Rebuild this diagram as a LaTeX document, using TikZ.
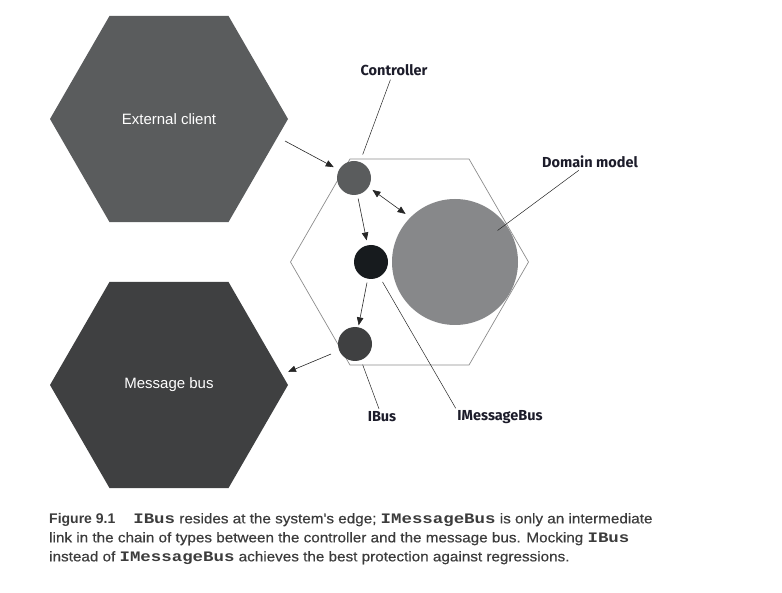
\documentclass[tikz,border=0pt]{standalone}
\usepackage{fontspec}
\setmainfont{Liberation Sans}
\newfontfamily\lblfont{Fira Sans}
\newfontfamily\capfont[FakeBold=0.5,FakeStretch=1.09]{Liberation Sans}
\newfontfamily\capbold{Liberation Sans Bold}
\newfontfamily\capmono[FakeStretch=1.2]{Liberation Mono}
\usetikzlibrary{arrows.meta,shapes.geometric}
\definecolor{clientgray}{HTML}{5A5C5D}
\definecolor{busgray}{HTML}{3F4041}
\definecolor{domgray}{HTML}{87888A}
\definecolor{msgblack}{HTML}{171B1E}
\definecolor{rimgray}{HTML}{8C8C8C}
\definecolor{lblink}{HTML}{1C1C2A}
\definecolor{capgray}{HTML}{3C3C3C}
\newcommand{\cd}[1]{{\capmono\bfseries\fontsize{14.5}{19}\selectfont #1}}

\begin{document}
\begin{tikzpicture}[x=1pt,y=-1pt,
>={Triangle[length=8pt,width=6.5pt]},
hexa/.style={regular polygon,regular polygon sides=6,minimum size=238pt,inner sep=0pt,outer sep=0pt},
dot/.style={circle,inner sep=0pt,outer sep=0pt,minimum size=34pt},
lbl/.style={font=\lblfont\bfseries\fontsize{14.5}{16}\selectfont,text=lblink,inner sep=1pt},
hextext/.style={text=white,font=\fontsize{15}{17}\selectfont},
conn/.style={->,line width=0.6pt,black!85},
pointer/.style={line width=0.5pt,black!85}]
\useasboundingbox (0,0) rectangle (782,593);

% the three hexagons
\node[hexa,fill=clientgray](client) at (169,119){};
\node[hextext] at (client.center){External client};
\node[hexa,fill=busgray](msgbus) at (169,385){};
\node[hextext] at (msgbus.center){Message bus};
\node[hexa,draw=rimgray,line width=0.7pt](app) at (409.5,262){};

% types inside the application
\node[dot,fill=clientgray](ctrl) at (354,178){};
\node[dot,fill=msgblack](imsg) at (371,262){};
\node[dot,fill=busgray](ibus) at (355,344){};
\node[dot,minimum size=126pt,fill=domgray](domain) at (455,262){};

% labels
\node[lbl](ctrllbl) at (394,70){Controller};
\node[lbl](domlbl) at (590,162){Domain model};
\node[lbl](ibuslbl) at (382,417){IBus};
\node[lbl](imsglbl) at (500,417){IMessageBus};

\draw[pointer,shorten <=3pt,shorten >=8pt] (ctrllbl) -- (ctrl);
\draw[pointer,shorten <=2pt,shorten >=53pt] (domlbl) -- (domain.center);
\draw[pointer,shorten <=5pt,shorten >=2pt] (ibus) -- (ibuslbl);
\draw[pointer,shorten <=6pt,shorten >=1pt] (imsg) -- (imsglbl.north west);

% calls
\coordinate (cin) at (285,141);
\coordinate (cout) at (288,372);
\draw[conn,shorten >=6pt] (cin) -- (ctrl);
\draw[conn,<->,shorten <=5pt,shorten >=6pt] (ctrl.-32) -- (domain.135);
\draw[conn,shorten <=4pt,shorten >=5pt] (ctrl) -- (imsg);
\draw[conn,shorten <=4pt,shorten >=2pt] (imsg) -- (ibus);
\draw[conn,shorten <=9pt] (ibus) -- (cout);

% caption
\node[anchor=north west,inner sep=0pt,align=left,text=capgray,
font=\capfont\fontsize{14}{19}\selectfont](caption) at (49,513){%
{\capbold Figure 9.1}\hspace{18pt}\cd{IBus} resides at the system's edge; \cd{IMessageBus} is only an intermediate\\
link in the chain of types between the controller and the message bus. Mocking \cd{IBus}\\
instead of \cd{IMessageBus} achieves the best protection against regressions.};
\end{tikzpicture}
\end{document}
